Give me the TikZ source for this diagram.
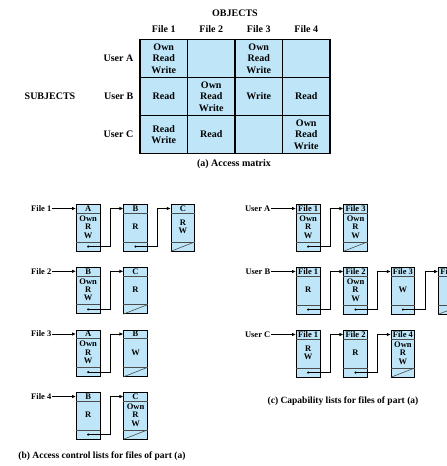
\documentclass[tikz,border=0pt]{standalone}
\usepackage{fontspec}
\setmainfont{Liberation Serif}
\usetikzlibrary{arrows.meta,calc}
\definecolor{cellblue}{HTML}{BEE6F8}
\newcommand\lbx[5]{%
  \node[lbox] (#1) at (#2,#3) {};
  \draw[sepline] ([yshift=-9pt]#1.north west) -- ([yshift=-9pt]#1.north east);
  \draw[sepline] ([yshift=9.5pt]#1.south west) -- ([yshift=9.5pt]#1.south east);
  \node[btext] (#1h) at ([yshift=-4.5pt]#1.north) {#4};
  \node[btext] (#1b) at ([yshift=-23pt]#1.north) {#5};
  \coordinate (#1p) at ([yshift=4.75pt]#1.south);
}
\newcommand\lnk[2]{%
  \fill (#1p) circle (1.2pt);
  \coordinate (#1t) at ([xshift=10pt]#1.east);
  \draw[ptr] (#1p) -| (#1t |- #2h) -- (#2.west |- #2h);
}
\newcommand\lend[1]{\draw[sepline] (#1.south west) -- ([yshift=9.5pt]#1.south east);}
\begin{document}
\begin{tikzpicture}[x=1pt,y=-1pt,
  cell/.style={draw, line width=1.4pt, fill=cellblue, minimum width=47.5pt, minimum height=38pt, inner sep=0pt, align=center, font=\fontsize{10}{11.3}\selectfont\bfseries},
  mlabel/.style={font=\fontsize{10}{12}\selectfont\bfseries, inner sep=0pt},
  lbox/.style={draw, line width=0.8pt, fill=cellblue, minimum width=23.5pt, minimum height=46.5pt, inner sep=0pt, anchor=north west},
  sepline/.style={line width=0.6pt, black!70},
  btext/.style={font=\fontsize{8.5}{8.3}\selectfont\bfseries, inner sep=0pt, align=center},
  lbl/.style={font=\fontsize{8.5}{10}\selectfont\bfseries, inner sep=0.5pt, anchor=east},
  ptr/.style={line width=0.8pt, -{Latex[length=4pt,width=3.5pt]}},
  caption/.style={font=\fontsize{9.5}{11}\selectfont\bfseries, inner sep=0pt}
]
\useasboundingbox (0,0) rectangle (447,466);
\clip (0,0) rectangle (447,466);
% ---------- (a) access matrix ----------
\node[mlabel] (obj) at (235,13) {OBJECTS};
\node[mlabel] (c1) at (163.75,29) {File 1};
\node[mlabel] (c2) at (211.25,29) {File 2};
\node[mlabel] (c3) at (258.75,29) {File 3};
\node[mlabel] (c4) at (306.25,29) {File 4};
\node[mlabel, anchor=east] (r1) at (133.5,58.5) {User A};
\node[mlabel, anchor=east] (r2) at (133.5,96.5) {User B};
\node[mlabel, anchor=east] (r3) at (133.5,134.5) {User C};
\node[mlabel] (subj) at (50,96.5) {SUBJECTS};
\node[cell] (m11) at (163.75,58.5) {Own\\Read\\Write};
\node[cell] (m12) at (211.25,58.5) {};
\node[cell] (m13) at (258.75,58.5) {Own\\Read\\Write};
\node[cell] (m14) at (306.25,58.5) {};
\node[cell] (m21) at (163.75,96.5) {Read};
\node[cell] (m22) at (211.25,96.5) {Own\\Read\\Write};
\node[cell] (m23) at (258.75,96.5) {Write};
\node[cell] (m24) at (306.25,96.5) {Read};
\node[cell] (m31) at (163.75,134.5) {Read\\Write};
\node[cell] (m32) at (211.25,134.5) {Read};
\node[cell] (m33) at (258.75,134.5) {};
\node[cell] (m34) at (306.25,134.5) {Own\\Read\\Write};
\node[mlabel] (capa) at (234,164) {(a) Access matrix};
% ---------- (b) access control lists ----------
\lbx{b1a}{76}{204}{A}{Own\\R\\W}
\lbx{b1b}{123.4}{204}{B}{R}
\lbx{b1c}{170.8}{204}{C}{R\\W}
\lnk{b1a}{b1b}\lnk{b1b}{b1c}\lend{b1c}
\node[lbl] (f1) at (52,208.5) {File 1};
\draw[ptr] (f1.east) -- (b1a.west |- f1.east);

\lbx{b2a}{76}{266.8}{B}{Own\\R\\W}
\lbx{b2b}{123.4}{266.8}{C}{R}
\lnk{b2a}{b2b}\lend{b2b}
\node[lbl] (f2) at (52,271.3) {File 2};
\draw[ptr] (f2.east) -- (b2a.west |- f2.east);

\lbx{b3a}{76}{329.5}{A}{Own\\R\\W}
\lbx{b3b}{123.4}{329.5}{B}{W}
\lnk{b3a}{b3b}\lend{b3b}
\node[lbl] (f3) at (52,334) {File 3};
\draw[ptr] (f3.east) -- (b3a.west |- f3.east);

\lbx{b4a}{76}{392}{B}{R}
\lbx{b4b}{123.4}{392}{C}{Own\\R\\W}
\lnk{b4a}{b4b}\lend{b4b}
\node[lbl] (f4) at (52,396.5) {File 4};
\draw[ptr] (f4.east) -- (b4a.west |- f4.east);

\node[caption] (capb) at (102,456) {(b) Access control lists for files of part (a)};
% ---------- (c) capability lists ----------
\lbx{c1a}{296}{204}{File 1}{Own\\R\\W}
\lbx{c1b}{343.4}{204}{File 3}{Own\\R\\W}
\lnk{c1a}{c1b}\lend{c1b}
\node[lbl] (ua) at (271,208.5) {User A};
\draw[ptr] (ua.east) -- (c1a.west |- ua.east);

\lbx{c2a}{296}{267}{File 1}{R}
\lbx{c2b}{343.4}{267}{File 2}{Own\\R\\W}
\lbx{c2c}{390.8}{267}{File 3}{W}
\lbx{c2d}{438.2}{267}{File 4}{R}
\lnk{c2a}{c2b}\lnk{c2b}{c2c}\lnk{c2c}{c2d}\lend{c2d}
\node[lbl] (ub) at (271,271.5) {User B};
\draw[ptr] (ub.east) -- (c2a.west |- ub.east);

\lbx{c3a}{296}{330}{File 1}{R\\W}
\lbx{c3b}{343.4}{330}{File 2}{R}
\lbx{c3c}{390.8}{330}{File 4}{Own\\R\\W}
\lnk{c3a}{c3b}\lnk{c3b}{c3c}\lend{c3c}
\node[lbl] (uc) at (271,334.5) {User C};
\draw[ptr] (uc.east) -- (c3a.west |- uc.east);

\node[caption] (capc) at (343,401.5) {(c) Capability lists for files of part (a)};
\end{tikzpicture}
\end{document}
